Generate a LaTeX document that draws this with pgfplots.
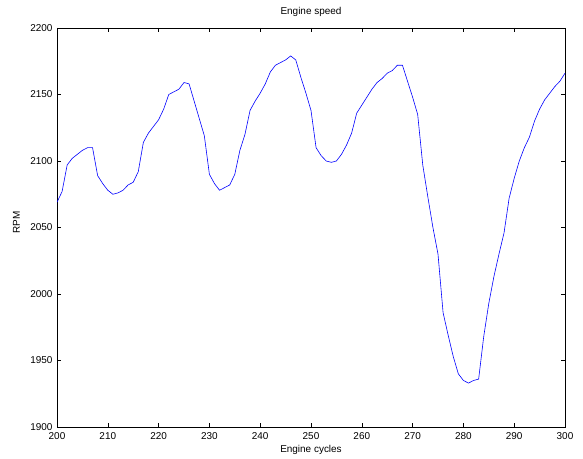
\documentclass[border=0pt]{standalone}
\usepackage{pgfplots}
\pgfplotsset{compat=1.18}
\usepackage{fontspec}
\setmainfont{Liberation Sans}

\begin{document}
\begin{tikzpicture}
\begin{axis}[
  scale only axis,
  width=508bp, height=399bp,
  at={(0,0)}, anchor=south west,
  xmin=200, xmax=300, ymin=1900, ymax=2200,
  xtick distance=10, ytick distance=50,
  tick align=inside,
  major tick length=4bp,
  tick style={black, line width=0.5pt},
  axis line style={black, line width=0.7pt},
  font=\fontsize{10}{12}\selectfont,
  /pgf/number format/assume math mode=true,
  /pgf/number format/1000 sep={},
  xticklabel style={inner sep=0pt, anchor=north, yshift=-5.5bp},
  yticklabel style={inner sep=0pt, anchor=east, xshift=-4.3bp},
  every axis title shift=0pt,
  title={Engine speed},
  title style={at={(axis description cs:0.5,1)}, anchor=base, inner sep=0pt, yshift=13bp},
  xlabel={Engine cycles},
  ylabel={RPM},
  xlabel style={at={(axis description cs:0.5,0)}, anchor=north, inner sep=0pt, yshift=-18.5bp},
  ylabel style={at={(axis description cs:-0.0728,0.512)}, anchor=south, inner sep=0pt},
]
\addplot[blue, line width=0.6pt, mark=none] table {
x y
200 2069
201 2077
202 2097
203 2102
204 2105
205 2108
206 2110
207 2110
208 2089
209 2083
210 2078
211 2075
212 2076
213 2078
214 2082
215 2084
216 2092
217 2114
218 2121
219 2126
220 2131
221 2139
222 2150
223 2152
224 2154
225 2159
226 2158
227 2145
228 2132
229 2119
230 2090
231 2083
232 2078
233 2080
234 2082
235 2090
236 2108
237 2120
238 2138
239 2145
240 2151
241 2158
242 2167
243 2172
244 2174
245 2176
246 2179
247 2176
248 2163
249 2151
250 2138
251 2110
252 2104
253 2100
254 2099
255 2100
256 2105
257 2112
258 2121
259 2136
260 2142
261 2148
262 2154
263 2159
264 2162
265 2166
266 2168
267 2172
268 2172
269 2160
270 2148
271 2135
272 2097
273 2073
274 2050
275 2030
276 1986
277 1969
278 1953
279 1940
280 1935
281 1933
282 1935
283 1936
284 1968
285 1993
286 2013
287 2030
288 2046
289 2072
290 2087
291 2100
292 2110
293 2118
294 2130
295 2139
296 2146
297 2151
298 2156
299 2160
300 2166
};
\end{axis}
\pgfresetboundingbox
\path[use as bounding box] (-57bp,-32bp) rectangle (526bp,427bp);
\end{tikzpicture}
\end{document}
